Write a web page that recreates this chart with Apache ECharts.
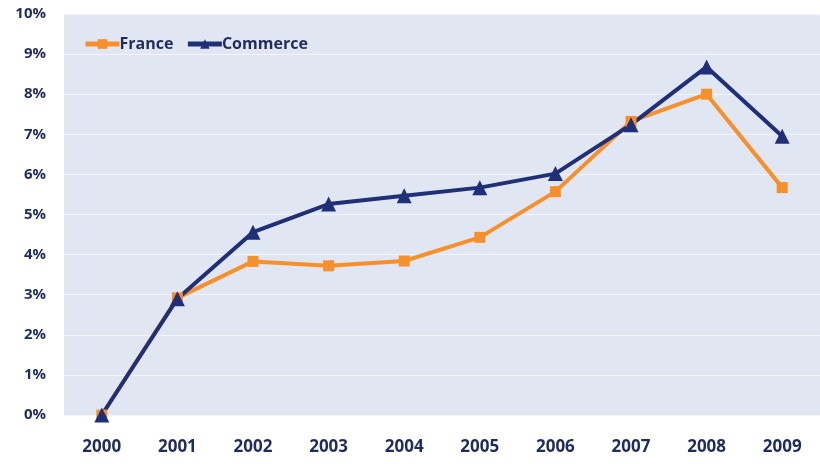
<!DOCTYPE html>
<html><head><meta charset="utf-8">
<script src="https://cdn.jsdelivr.net/npm/echarts@6/dist/echarts.min.js"></script>
<style>html,body{margin:0;padding:0;background:#fff}#c{width:820px;height:464px}</style>
</head><body><div id="c"></div>
<script>
var years = ['2000','2001','2002','2003','2004','2005','2006','2007','2008','2009'];
var france = [0, 2.92, 3.83, 3.72, 3.84, 4.43, 5.57, 7.32, 8.0, 5.67];
var commerce = [0, 2.9, 4.56, 5.26, 5.47, 5.67, 6.02, 7.24, 8.68, 6.95];
var yTicks = [0,1,2,3,4,5,6,7,8,9,10];
var chart = echarts.init(document.getElementById('c'));
var txt = '#1f2d5c';
chart.setOption({
  backgroundColor: '#ffffff',
  animation: false,
  color: ['#f7902a', '#1f2f78'],
  grid: {left: 64, top: 14, width: 759, height: 401, backgroundColor: '#e1e7f2', show: true, borderWidth: 0},
  legend: {
    left: 78, top: 31, itemGap: 12, itemWidth: 34, itemHeight: 12,
    textStyle: {color: txt, fontSize: 16, fontWeight: 'bold', fontFamily: 'Open Sans', padding: [0,0,0,-5]},
    data: [
      {name: 'France', itemStyle: {color: '#f7902a'}, lineStyle: {width: 5}},
      {name: 'Commerce', itemStyle: {color: '#1f2f78'}, lineStyle: {width: 5}}
    ]
  },
  xAxis: {
    type: 'category', data: years, boundaryGap: true,
    axisLine: {show: false}, axisTick: {show: false},
    axisLabel: {color: txt, fontSize: 17, fontWeight: 'bold', fontFamily: 'Open Sans', margin: 24}
  },
  yAxis: {
    type: 'value', min: 0, max: 10, interval: 1,
    axisLine: {show: false}, axisTick: {show: false},
    axisLabel: {color: txt, fontSize: 15, fontWeight: 'bold', fontFamily: 'Open Sans', margin: 18,
      formatter: function(v){ return yTicks.indexOf(v) >= 0 ? v + '%' : ''; }},
    splitLine: {lineStyle: {color: '#f3f5fa', width: 1}}
  },
  series: [
    {name: 'France', type: 'line', data: france, symbol: 'rect', symbolSize: 11,
     lineStyle: {width: 4, color: '#f7902a'}, itemStyle: {color: '#f7902a'}},
    {name: 'Commerce', type: 'line', data: commerce, symbol: 'triangle', symbolSize: 15,
     lineStyle: {width: 4, color: '#1f2f78'}, itemStyle: {color: '#1f2f78'}}
  ]
});
</script></body></html>
